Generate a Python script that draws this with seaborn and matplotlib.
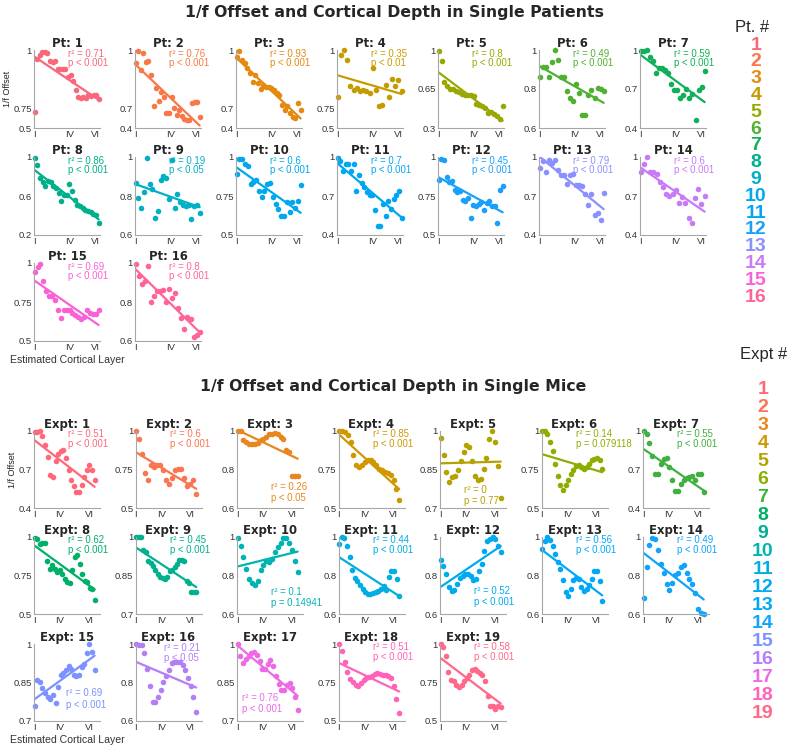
import numpy as np
import matplotlib
matplotlib.use("Agg")
import matplotlib.pyplot as plt
import seaborn as sns

sns.set_style("white")
plt.rcParams["font.family"] = ["Liberation Sans", "DejaVu Sans"]

# ---- patients: normalised 1/f offset per channel, top -> bottom of cortex
pt_1 = [0.60, 0.94, 0.97, 0.99, 0.985, 0.98, 0.93, 0.925, 0.93, 0.88, 0.88, 0.88, 0.88, 0.83, 0.84, 0.80, 0.745, 0.70, 0.69, 0.70, 0.69, 0.71, 0.705, 0.71, 0.71, 0.685]
pt_2 = [0.898, 0.995, 0.847, 0.975, 0.91, 0.916, 0.81, 0.571, 0.706, 0.604, 0.68, 0.642, 0.515, 0.515, 0.642, 0.553, 0.502, 0.54, 0.49, 0.469, 0.459, 0.464, 0.59, 0.597, 0.597, 0.482]
pt_3 = [0.949, 0.99, 0.923, 0.903, 0.86, 0.826, 0.757, 0.809, 0.75, 0.699, 0.732, 0.714, 0.714, 0.706, 0.694, 0.668, 0.655, 0.579, 0.54, 0.566, 0.515, 0.484, 0.477, 0.592, 0.535]
pt_4 = [0.70, 0.968, 1.0, 0.936, 0.77, 0.745, 0.755, 0.738, 0.745, 0.734, 0.723, 0.883, 0.745, 0.64, 0.645, 0.777, 0.70, 0.815, 0.77, 0.81, 0.734]
pt_5 = [0.994, 0.905, 0.717, 0.678, 0.649, 0.649, 0.628, 0.619, 0.604, 0.592, 0.592, 0.592, 0.583, 0.514, 0.509, 0.50, 0.479, 0.433, 0.44, 0.428, 0.405, 0.38, 0.50]
pt_6 = [0.864, 0.915, 0.911, 0.864, 0.94, 1.0, 0.949, 0.86, 0.86, 0.792, 0.753, 0.741, 0.826, 0.779, 0.668, 0.666, 0.77, 0.796, 0.753, 0.804, 0.80, 0.79]
pt_7 = [0.99, 0.99, 1.0, 0.944, 0.916, 0.826, 0.86, 0.86, 0.847, 0.82, 0.74, 0.694, 0.689, 0.63, 0.655, 0.699, 0.63, 0.663, 0.464, 0.694, 0.714, 0.842]
pt_8 = [0.99, 0.92, 0.786, 0.745, 0.70, 0.75, 0.745, 0.70, 0.677, 0.632, 0.547, 0.608, 0.608, 0.728, 0.653, 0.564, 0.506, 0.496, 0.472, 0.455, 0.449, 0.438, 0.42, 0.41, 0.32]
pt_9 = [0.867, 0.792, 0.736, 0.821, 0.995, 0.86, 0.838, 0.685, 0.724, 0.884, 0.903, 0.893, 0.787, 0.983, 0.74, 0.809, 0.77, 0.753, 0.748, 0.753, 0.682, 0.748, 0.753, 0.711]
pt_10 = [0.894, 0.99, 0.985, 0.957, 0.945, 0.83, 0.84, 0.85, 0.78, 0.745, 0.78, 0.83, 0.835, 0.745, 0.698, 0.664, 0.623, 0.623, 0.713, 0.649, 0.713, 0.67, 0.72, 0.82]
pt_11 = [0.99, 0.97, 0.89, 0.95, 0.95, 0.89, 0.95, 0.74, 0.86, 0.80, 0.77, 0.73, 0.71, 0.71, 0.59, 0.47, 0.47, 0.64, 0.55, 0.66, 0.60, 0.68, 0.71, 0.74, 0.53]
pt_12 = [0.855, 0.99, 0.983, 0.872, 0.84, 0.845, 0.787, 0.777, 0.78, 0.723, 0.717, 0.74, 0.606, 0.691, 0.685, 0.70, 0.713, 0.66, 0.706, 0.72, 0.685, 0.685, 0.574, 0.787, 0.813]
pt_13 = [0.918, 0.97, 0.886, 0.98, 0.954, 0.974, 0.903, 0.86, 0.86, 0.796, 0.86, 0.867, 0.783, 0.783, 0.775, 0.719, 0.63, 0.719, 0.553, 0.571, 0.515, 0.724]
pt_14 = [0.886, 0.949, 1.0, 0.886, 0.886, 0.872, 0.808, 0.77, 0.719, 0.70, 0.714, 0.745, 0.648, 0.694, 0.648, 0.528, 0.49, 0.681, 0.757, 0.642, 0.70]
pt_15 = [0.94, 0.974, 0.994, 0.883, 0.823, 0.79, 0.787, 0.766, 0.70, 0.649, 0.696, 0.70, 0.696, 0.681, 0.664, 0.655, 0.643, 0.655, 0.70, 0.681, 0.67, 0.675, 0.696]
pt_16 = [0.995, 0.932, 0.894, 0.906, 0.986, 0.80, 0.83, 0.856, 0.856, 0.86, 0.80, 0.867, 0.821, 0.847, 0.77, 0.72, 0.66, 0.723, 0.714, 0.622, 0.629, 0.646]

pt_r2 = ["0.71", "0.76", "0.93", "0.35", "0.8", "0.49", "0.59", "0.86",
         "0.19", "0.6", "0.7", "0.45", "0.79", "0.6", "0.69", "0.8"]
pt_p = ["p < 0.001", "p < 0.001", "p < 0.001", "p < 0.01", "p < 0.001", "p < 0.001",
        "p < 0.001", "p < 0.001", "p < 0.05", "p < 0.001", "p < 0.001", "p < 0.001",
        "p < 0.001", "p < 0.001", "p < 0.001", "p < 0.001"]
pt_ymin = [0.5, 0.4, 0.4, 0.5, 0.3, 0.6, 0.4, 0.2, 0.6, 0.5, 0.4, 0.5, 0.4, 0.4, 0.5, 0.6]

# ---- mice
ex_1 = [0.99, 0.996, 1.0, 0.958, 0.888, 0.797, 0.654, 0.642, 0.766, 0.823, 0.844, 0.855, 0.792, 0.699, 0.616, 0.569, 0.525, 0.525, 0.577, 0.642, 0.699, 0.732, 0.699, 0.616]
ex_2 = [1.0, 0.95, 0.848, 0.727, 0.684, 0.777, 0.766, 0.777, 0.777, 0.745, 0.684, 0.658, 0.697, 0.745, 0.755, 0.75, 0.697, 0.641, 0.658, 0.68, 0.589]
ex_3 = [1.0, 1.0, 0.951, 0.943, 0.931, 0.931, 0.934, 0.938, 0.951, 0.96, 0.969, 0.983, 0.986, 0.99, 0.986, 0.969, 0.96, 0.90, 0.891, 0.764, 0.764, 0.764]
ex_4 = [1.0, 1.0, 0.994, 0.972, 0.929, 0.842, 0.777, 0.766, 0.777, 0.799, 0.81, 0.814, 0.80, 0.777, 0.755, 0.745, 0.734, 0.727, 0.712, 0.68, 0.626, 0.554]
ex_5 = [0.974, 0.905, 0.84, 0.801, 0.821, 0.823, 0.849, 0.883, 0.918, 0.944, 0.938, 0.883, 0.823, 0.808, 0.814, 0.853, 0.896, 0.97, 1.0, 0.957, 0.862, 0.74]
ex_6 = [1.0, 1.0, 0.983, 0.929, 0.868, 0.788, 0.706, 0.647, 0.619, 0.647, 0.68, 0.719, 0.749, 0.771, 0.777, 0.766, 0.755, 0.766, 0.788, 0.81, 0.82, 0.827, 0.814, 0.751]
ex_7 = [1.0, 0.98, 0.909, 0.803, 0.668, 0.663, 0.745, 0.784, 0.792, 0.719, 0.616, 0.532, 0.532, 0.59, 0.621, 0.636, 0.642, 0.647, 0.616, 0.663, 0.668, 0.525]
ex_8 = [0.996, 0.987, 0.955, 0.961, 0.961, 0.843, 0.794, 0.815, 0.79, 0.773, 0.785, 0.758, 0.73, 0.708, 0.704, 0.785, 0.871, 0.88, 0.822, 0.758, 0.715, 0.708, 0.672, 0.665, 0.592]
ex_9 = [1.0, 1.0, 1.0, 0.948, 0.941, 0.906, 0.897, 0.887, 0.871, 0.854, 0.845, 0.842, 0.838, 0.845, 0.867, 0.871, 0.884, 0.893, 0.91, 0.912, 0.906, 0.829, 0.822, 0.786, 0.786, 0.786]
ex_10 = [0.995, 0.955, 0.897, 0.835, 0.784, 0.76, 0.749, 0.772, 0.828, 0.852, 0.875, 0.87, 0.887, 0.921, 0.948, 0.969, 0.995, 0.995, 0.969, 0.935, 0.875, 0.818]
ex_11 = [0.966, 0.998, 0.995, 0.952, 0.897, 0.828, 0.785, 0.772, 0.749, 0.732, 0.715, 0.703, 0.703, 0.708, 0.715, 0.72, 0.729, 0.746, 0.725, 0.794, 0.823, 0.823, 0.784, 0.694]
ex_12 = [0.883, 0.849, 0.806, 0.741, 0.72, 0.725, 0.754, 0.789, 0.797, 0.806, 0.806, 0.797, 0.777, 0.784, 0.823, 0.858, 0.926, 0.978, 0.99, 1.0, 0.99, 0.955, 0.921]
ex_13 = [0.938, 0.978, 1.0, 0.986, 0.955, 0.914, 0.87, 0.832, 0.777, 0.712, 0.694, 0.732, 0.777, 0.789, 0.78, 0.742, 0.72, 0.732, 0.749, 0.78, 0.823, 0.823, 0.772, 0.669]
ex_14 = [0.681, 0.846, 0.96, 0.995, 0.99, 0.931, 0.858, 0.811, 0.758, 0.725, 0.76, 0.801, 0.811, 0.846, 0.852, 0.811, 0.78, 0.758, 0.708, 0.626, 0.605, 0.60]
ex_15 = [0.758, 0.858, 0.851, 0.829, 0.81, 0.794, 0.784, 0.80, 0.771, 0.833, 0.88, 0.887, 0.90, 0.915, 0.902, 0.88, 0.876, 0.88, 0.912, 0.923, 0.964, 1.0, 0.97, 0.90]
ex_16 = [1.0, 0.995, 0.995, 0.952, 0.87, 0.78, 0.698, 0.698, 0.725, 0.763, 0.801, 0.832, 0.863, 0.90, 0.909, 0.909, 0.904, 0.892, 0.866, 0.823, 0.784, 0.725, 0.646]
ex_17 = [1.0, 0.954, 0.925, 0.941, 0.954, 0.966, 0.97, 0.957, 0.932, 0.902, 0.902, 0.923, 0.938, 0.915, 0.876, 0.845, 0.82, 0.822, 0.842, 0.848, 0.829, 0.794, 0.743]
ex_18 = [1.0, 0.957, 0.886, 0.815, 0.773, 0.751, 0.736, 0.73, 0.747, 0.768, 0.779, 0.785, 0.79, 0.807, 0.811, 0.807, 0.80, 0.80, 0.79, 0.779, 0.725, 0.644, 0.549]
ex_19 = [1.0, 0.979, 0.923, 0.815, 0.768, 0.757, 0.736, 0.721, 0.736, 0.757, 0.779, 0.80, 0.833, 0.837, 0.822, 0.811, 0.80, 0.757, 0.665, 0.597, 0.597, 0.575, 0.60, 0.59]

ex_r2 = ["0.51", "0.6", "0.26", "0.85", "0", "0.14", "0.55", "0.62", "0.45", "0.1",
         "0.44", "0.52", "0.56", "0.49", "0.69", "0.21", "0.76", "0.51", "0.58"]
ex_p = ["p < 0.001", "p < 0.001", "p < 0.05", "p < 0.001", "p = 0.77", "p = 0.079118",
        "p < 0.001", "p < 0.001", "p < 0.001", "p = 0.14941", "p < 0.001", "p < 0.001",
        "p < 0.001", "p < 0.001", "p < 0.001", "p < 0.05", "p < 0.001", "p < 0.001", "p < 0.001"]
ex_ymin = [0.4, 0.5, 0.6, 0.5, 0.7, 0.5, 0.4, 0.5, 0.7, 0.6, 0.6, 0.6, 0.6, 0.6, 0.7, 0.6, 0.7, 0.5, 0.5]

layer_labels = ["I", "IV", "VI"]

pt_colors = ["#f8687a", "#f87848", "#e48a10", "#c49c00", "#98a800", "#50b030", "#10b058", "#00b08c",
             "#00b0c6", "#00a8ec", "#00a6f4", "#18a0fc", "#8a90ff", "#c87af8", "#f862d6", "#ff6496"]
ex_colors = ["#ff6878", "#fa7650", "#e88620", "#d09800", "#b4a200", "#8cae00", "#40b040",
             "#00b066", "#00b08e", "#00b4b2", "#00aee2", "#00aaf0", "#00a8f6", "#10a4fc",
             "#7c92ff", "#b47ef8", "#ec6ae6", "#ff62b8", "#ff6888"]

pt_data = [pt_1, pt_2, pt_3, pt_4, pt_5, pt_6, pt_7, pt_8, pt_9, pt_10, pt_11, pt_12, pt_13, pt_14, pt_15, pt_16]
ex_data = [ex_1, ex_2, ex_3, ex_4, ex_5, ex_6, ex_7, ex_8, ex_9, ex_10, ex_11, ex_12, ex_13, ex_14, ex_15, ex_16, ex_17, ex_18, ex_19]

# in the first four patient panels the middle y tick sits low on the axis
pt_midtick = [0.25, 0.25, 0.25, 0.25] + [0.5] * 12

# where the stats text goes when it is not top-right (x, y of r2 line, y of p line)
ex_txt = {3: (0.51, 0.27, 0.13), 5: (0.37, 0.23, 0.09), 10: (0.51, 0.28, 0.14),
          12: (0.52, 0.30, 0.16), 15: (0.49, 0.36, 0.21), 16: (0.43, 0.95, 0.82),
          17: (0.07, 0.30, 0.16)}

W, H = 787, 749
fig = plt.figure(figsize=(W / 100, H / 100), dpi=100)
grey = "#a6a6a6"


def add_ax(left, top, w, h):
    return fig.add_axes([left / W, 1 - (top + h) / H, w / W, h / H])


def panel(ax, vals, ymin, color, title, r2, p, xend, xt, txt=(0.52, 0.955, 0.83), mt=0.5):
    x = np.linspace(0.01, xend, len(vals))
    sns.regplot(x=x, y=np.array(vals), ax=ax, ci=None, color=color, truncate=True,
                scatter_kws=dict(s=16, alpha=1, linewidths=0, clip_on=False),
                line_kws=dict(lw=1.6))
    ax.set_xlim(0, 1)
    ax.set_ylim(ymin, 1)
    mid = round((ymin + 1) / 2, 3)
    ax.set_yticks([ymin, ymin + mt * (1 - ymin), 1])
    ax.set_yticklabels([f"{ymin:g}", f"{mid:g}", "1"])
    ax.set_xticks(xt)
    ax.set_xticklabels(layer_labels)
    sns.despine(ax=ax)
    for s in ("left", "bottom"):
        ax.spines[s].set_color(grey)
        ax.spines[s].set_linewidth(0.8)
    ax.tick_params(length=2, direction="in", color=grey, labelsize=6.8,
                   labelcolor="#333333", pad=1.5)
    ax.set_title(title, fontsize=8.4, fontweight="bold", pad=2.5, family="DejaVu Sans")
    tx, ty1, ty2 = txt
    ax.text(tx, ty1, f"r² = {r2}", transform=ax.transAxes, color=color,
            fontsize=6.9, va="center")
    ax.text(tx, ty2, p, transform=ax.transAxes, color=color, fontsize=6.9, va="center")


pt_rows = [50, 157, 263]
ex_rows = [431, 537, 644]

for i, vals in enumerate(pt_data):
    r, c = divmod(i, 7)
    ax = add_ax(34 + 101 * c, pt_rows[r], 66, 78)
    panel(ax, vals, pt_ymin[i], pt_colors[i], f"Pt: {i + 1}", pt_r2[i], pt_p[i],
          0.98, [0, 0.54, 0.93], mt=pt_midtick[i])
    if i == 0:
        ax.set_ylabel("1/f Offset", fontsize=6.5, labelpad=1)
    if i == 14:
        ax.set_xlabel("Estimated Cortical Layer", fontsize=7.6, labelpad=2, color="#333333")

for i, vals in enumerate(ex_data):
    r, c = divmod(i, 7)
    ax = add_ax(34 + 101.5 * c, ex_rows[r], 66, 77)
    panel(ax, vals, ex_ymin[i], ex_colors[i], f"Expt: {i + 1}", ex_r2[i], ex_p[i],
          0.92, [0, 0.39, 0.84], ex_txt.get(i + 1, (0.52, 0.955, 0.83)))
    if i == 0:
        ax.set_ylabel("1/f Offset", fontsize=6.5, labelpad=1)
    if i == 14:
        ax.set_xlabel("Estimated Cortical Layer", fontsize=7.6, labelpad=2, color="#333333")

fig.text(395 / W, 1 - 13 / H, "1/f Offset and Cortical Depth in Single Patients",
         ha="center", va="center", fontsize=11.3, fontweight="bold", family="DejaVu Sans")
fig.text(393 / W, 1 - 387 / H, "1/f Offset and Cortical Depth in Single Mice",
         ha="center", va="center", fontsize=11.3, fontweight="bold", family="DejaVu Sans")

# colour keys on the right
fig.text(752 / W, 1 - 27 / H, "Pt. #", ha="center", va="center", fontsize=12)
for i in range(16):
    fig.text(756 / W, 1 - (45 + 16.8 * i) / H, str(i + 1), ha="center", va="center",
             fontsize=14, fontweight="bold", color=pt_colors[i])
fig.text(764 / W, 1 - 355 / H, "Expt #", ha="center", va="center", fontsize=12)
for i in range(19):
    fig.text(763 / W, 1 - (389 + 18 * i) / H, str(i + 1), ha="center", va="center",
             fontsize=14, fontweight="bold", color=ex_colors[i])

fig.savefig("out.png", dpi=100)
